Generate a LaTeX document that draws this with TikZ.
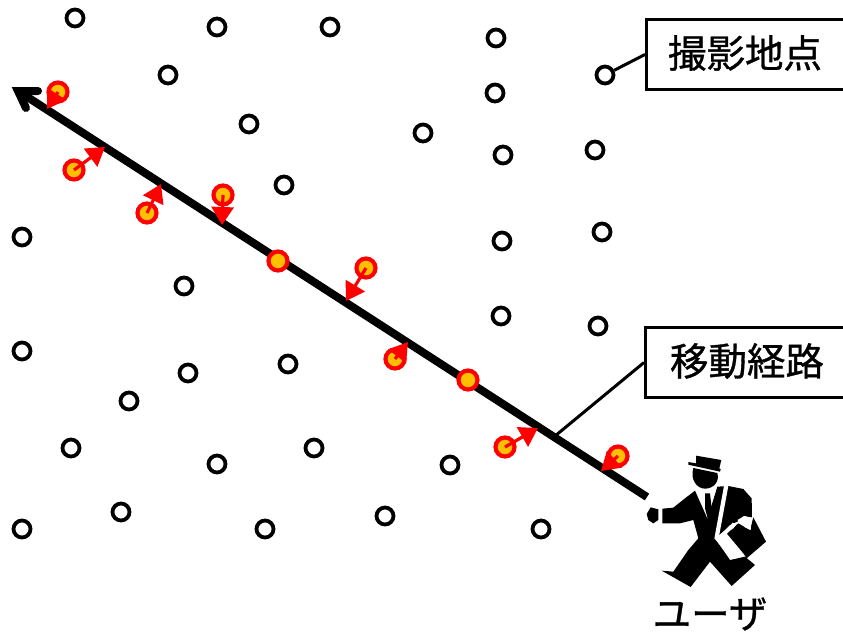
\documentclass[tikz,border=0pt]{standalone}
\usepackage{fontspec}
\newfontfamily\cjk[FakeBold=0.9]{Noto Sans CJK JP}
\definecolor{hitfill}{HTML}{FFC000}
\tikzset{
  site/.style={circle,draw=black,fill=white,line width=3.8pt,minimum size=17pt,inner sep=0pt},
  hit/.style={circle,draw=red,fill=hitfill,line width=4.2pt,minimum size=19pt,inner sep=0pt},
  move/.style={draw=red,line width=3.2pt,-{Triangle[length=18pt,width=22pt,fill=red]},shorten >=0pt},
  tag/.style={draw=black,fill=white,line width=3pt,inner sep=0pt,anchor=north west},
  tagtext/.style={font=\cjk\fontsize{38.5}{38.5}\selectfont,anchor=center},
  lead/.style={draw=black,line width=3pt},
  route/.style={draw=black,line width=8pt},
  sil/.style={fill=black,draw=none},
  gap/.style={fill=white,draw=none}
}
\usetikzlibrary{arrows.meta}
\begin{document}
\begin{tikzpicture}[x=1pt,y=-1pt]
\useasboundingbox (0,0) rectangle (843,632);
% route
\coordinate (rs) at (647,497);
\coordinate (rt) at (18,91);
\coordinate (ra) at (38,91);
\coordinate (rb) at (26,108);
\draw[route] (rs) -- (rt);
\draw[route,line cap=round,line join=miter] (ra) -- (rt) -- (rb);
% sites
\foreach \n/\x/\y in {a/75/18,b/217/27,c/330/27,d/496/38,e/605/75,f/168/75,g/495/93,h/249/124,i/423/133,j/503/155,k/595/150,l/284/185,m/22/237,n/502/241,o/602/232,p/184/286,q/501/316,r/598/326,s/22/351,t/288/364,u/188/373,v/129/401,w/71/448,x/314/448,y/217/464,z/450/465,aa/121/512,ab/385/516,ac/22/529,ad/265/529,ae/541/529}
  \node[site] (s\n) at (\x,\y) {};
% hits with offsets
\foreach \n/\x/\y/\tx/\ty in {a/58/92/47/109,b/74/170/105/147,c/147/213/161/184,d/223/195/222/225,f/366/268/346/301,g/395/359/408/342,i/505/447/538/428,j/618/456/601/471}{
  \node[hit] (h\n) at (\x,\y) {};
  \coordinate (t\n) at (\tx,\ty);
  \draw[move] (h\n.center) -- (t\n);
}
\foreach \n/\x/\y in {e/278/261,h/468/380}
  \node[hit] (h\n) at (\x,\y) {};
% labels
\coordinate (lr) at (555,436);
\node[tag,minimum width=200pt,minimum height=70pt] (shoot) at (645,18) {};
\node[tagtext] (shoott) at (745,53) {撮影地点};
\node[tag,minimum width=201pt,minimum height=70pt] (path) at (644,326) {};
\node[tagtext] (patht) at (747,361) {移動経路};
\draw[lead] (se) -- (shoot.west);
\draw[lead] (lr) -- (path.west);
% user figure
\begin{scope}[shift={(630,440)},x=0.3333pt,y=-0.3333pt]
 \fill[sil] (175,66) -- (198,70) -- (198,47) -- (274,60) -- (268,85) -- (272,88) -- (270,95) -- (175,74) -- cycle;
 \fill[sil] (190,84) -- (262,99) .. controls (270,125) and (250,146) .. (225,146) .. controls (200,146) and (180,118) .. (190,84) -- cycle;
 \fill[sil] (50,222) -- (62,202) -- (85,208) -- (85,240) -- (70,250) -- (55,240) -- cycle;
 \fill[sil] (97,206) -- (130,203) -- (165,175) -- (195,152) -- (232,235) -- (262,140) -- (295,138) -- (340,147) -- (365,175) -- (366,232) -- (340,228) -- (322,245) -- (300,255) -- (280,275) -- (255,295) -- (300,360) -- (345,350) -- (375,375) -- (305,438) -- (240,365) -- (182,441) -- (95,392) -- (130,395) -- (175,330) -- (205,295) -- (190,240) -- (150,250) -- (97,250) -- cycle;
 \fill[gap] (205,156) -- (222,160) -- (232,235) -- cycle;
 \fill[gap] (240,160) -- (258,150) -- (232,235) -- cycle;
 \fill[sil] (225,160) -- (240,160) -- (245,205) -- (233,235) -- (225,205) -- cycle;
 \fill[gap] (282,138) -- (295,138) -- (265,300) -- (253,296) -- cycle;
 \fill[sil] (370,232) -- (408,305) -- (350,355) -- (340,340) -- (290,280) -- (325,250) -- (360,270) -- cycle;
 \fill[gap] (255,297) -- (280,275) -- (298,262) -- (308,248) -- (318,255) -- (310,265) -- (300,272) -- (290,282) -- (335,350) -- (305,358) -- cycle;
 \fill[gap] (322,240) -- (345,228) -- (365,240) -- (362,270) -- (345,262) -- cycle;
\end{scope}
\node[tagtext] (user) at (710,614) {ユーザ};
\end{tikzpicture}
\end{document}
